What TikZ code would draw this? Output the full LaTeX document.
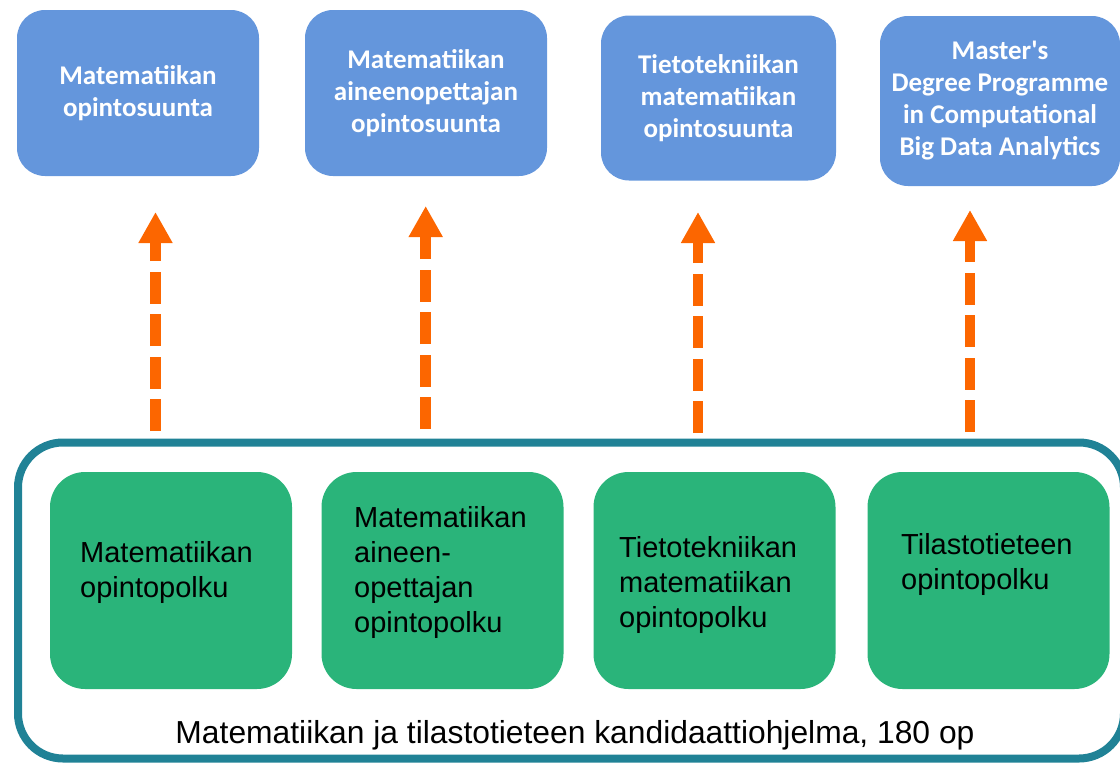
\documentclass[tikz,border=0pt]{standalone}
\usepackage{fontspec}
\setmainfont{Liberation Sans}
\newfontfamily\blueboxfont{Carlito}
\usetikzlibrary{arrows.meta}
\definecolor{boxblue}{RGB}{100,150,220}
\definecolor{boxgreen}{RGB}{42,180,122}
\definecolor{arroworange}{RGB}{252,102,0}
\definecolor{frameteal}{RGB}{32,130,150}
\begin{document}
\begin{tikzpicture}[x=1pt,y=-1pt,
  topbox/.style={rectangle, rounded corners=28pt, fill=boxblue, text=white,
    font=\blueboxfont\bfseries\fontsize{27}{32}\selectfont, align=center, inner sep=0pt},
  pathbox/.style={rectangle, rounded corners=35pt, fill=boxgreen, inner sep=0pt,
    minimum width=242pt, minimum height=217pt},
  pathtext/.style={anchor=north west, inner sep=0pt, align=left, text=black,
    font=\fontsize{29}{35}\selectfont},
  progbox/.style={rectangle, rounded corners=45pt, draw=frameteal, line width=8pt, inner sep=0pt},
  uparrow/.style={draw=arroworange, line width=10.5pt, dash pattern=on 32pt off 10.5pt,
    -{Triangle[length=31pt,width=32pt]}}
]
\useasboundingbox (0,0) rectangle (1120,763);

% top boxes
\node[topbox, minimum width=242pt, minimum height=166pt] (b1) at (138,93) {Matematiikan\\opintosuunta};
\node[topbox, minimum width=242pt, minimum height=166pt] (b2) at (426,93) {Matematiikan\\aineenopettajan\\opintosuunta};
\node[topbox, minimum width=235pt, minimum height=165pt] (b3) at (718.5,98) {Tietotekniikan\\matematiikan\\opintosuunta};
\node[topbox, minimum width=240pt, minimum height=170pt] (b4) at (1000,101) {Master's\\Degree Programme\\in Computational\\Big Data Analytics};

% programme frame
\node[progbox, minimum width=1106pt, minimum height=316pt] (prog) at (571,600.5) {};
\node[anchor=base, inner sep=0pt, font=\fontsize{31.8}{38}\selectfont] (progtext) at (575,743)
  {Matematiikan ja tilastotieteen kandidaattiohjelma, 180 op};

% green path boxes
\node[pathbox] (g1) at (171,580.5) {};
\node[pathbox] (g2) at (442.5,580.5) {};
\node[pathbox] (g3) at (714.5,580.5) {};
\node[pathbox] (g4) at (988.5,580.5) {};

\node[pathtext] (p1) at (80,541) {Matematiikan\\opintopolku};
\node[pathtext] (p2) at (354,506) {Matematiikan\\aineen-\\opettajan\\opintopolku};
\node[pathtext] (p3) at (619,536) {Tietotekniikan\\matematiikan\\opintopolku};
\node[pathtext] (p4) at (901,533) {Tilastotieteen\\opintopolku};

% arrows
\coordinate (s1) at (155.5,431);
\coordinate (e1) at (155.5,212);
\coordinate (s2) at (425.7,429);
\coordinate (e2) at (425.7,206);
\coordinate (s3) at (698,433);
\coordinate (e3) at (698,212);
\coordinate (s4) at (970,432);
\coordinate (e4) at (970,210);
\draw[uparrow] (s1) -- (e1);
\draw[uparrow] (s2) -- (e2);
\draw[uparrow] (s3) -- (e3);
\draw[uparrow] (s4) -- (e4);
\end{tikzpicture}
\end{document}
